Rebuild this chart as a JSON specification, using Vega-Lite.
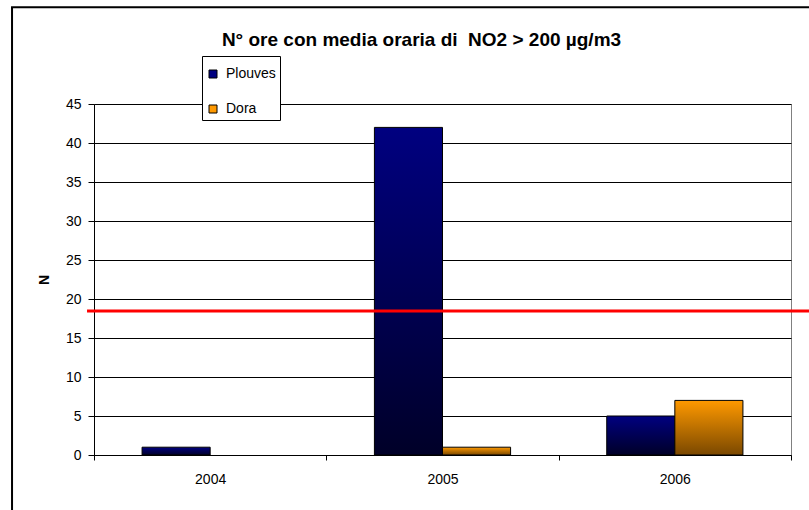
{
  "$schema": "https://vega.github.io/schema/vega-lite/v6.json",
  "width": 697,
  "height": 351,
  "autosize": "none",
  "padding": {"left": 94, "top": 104, "right": 18, "bottom": 55},
  "background": "white",
  "config": {
    "font": "Liberation Sans",
    "view": {"stroke": "#808080", "strokeWidth": 1},
    "axis": {
      "domainColor": "black",
      "tickColor": "black",
      "labelColor": "black",
      "titleColor": "black",
      "labelFont": "Liberation Sans",
      "titleFont": "Liberation Sans",
      "labelFontSize": 14,
      "labelFontWeight": "normal"
    }
  },
  "title": {
    "text": "N° ore con media oraria di\u00a0 NO2 > 200 µg/m3",
    "font": "Liberation Sans",
    "fontSize": 19,
    "fontWeight": "bold",
    "color": "black",
    "anchor": "middle",
    "frame": "group",
    "dx": -21,
    "offset": -44
  },
  "datasets": {
    "bars": [
      {"year": "2004", "series": "Plouves", "value": 1},
      {"year": "2005", "series": "Plouves", "value": 42},
      {"year": "2005", "series": "Dora", "value": 1},
      {"year": "2006", "series": "Plouves", "value": 5},
      {"year": "2006", "series": "Dora", "value": 7}
    ],
    "limit": [{"threshold": 18.45}]
  },
  "layer": [
    {
      "data": {"name": "limit"},
      "mark": {"type": "rect", "fill": null, "stroke": "black", "strokeWidth": 2},
      "encoding": {
        "x": {"datum": -0.1176, "type": "quantitative", "scale": {"domain": [0, 1], "nice": false, "zero": false}, "axis": null},
        "x2": {"datum": 1.1},
        "y": {
          "datum": 57.4,
          "type": "quantitative",
          "scale": {"domain": [0, 45], "nice": false},
          "axis": {
            "title": "N",
            "titleFontSize": 14,
            "titleFontWeight": "bold",
            "titlePadding": 14,
            "values": [0, 5, 10, 15, 20, 25, 30, 35, 40, 45],
            "labelFontSize": 14,
            "grid": true,
            "gridColor": "black",
            "gridOpacity": 1,
            "gridWidth": 1,
            "tickSize": 6,
            "labelPadding": 7
          }
        },
        "y2": {"datum": -9}
      }
    },
    {
      "data": {"name": "bars"},
      "mark": {"type": "bar", "stroke": "black", "strokeWidth": 1},
      "encoding": {
        "x": {
          "field": "year",
          "type": "nominal",
          "scale": {"paddingInner": 0, "paddingOuter": 0},
          "axis": {
            "title": null,
            "labelAngle": 0,
            "grid": false,
            "tickBand": "extent",
            "tickSize": 5,
            "labelPadding": 12,
            "labelFontSize": 14,
            "domainColor": "black"
          }
        },
        "xOffset": {
          "field": "series",
          "type": "nominal",
          "sort": ["Plouves", "Dora"],
          "scale": {"paddingInner": 0, "paddingOuter": 0.706}
        },
        "y": {
          "field": "value",
          "type": "quantitative",
          "scale": {"domain": [0, 45], "nice": false},
          "axis": {
            "title": "N",
            "titleFontSize": 14,
            "titleFontWeight": "bold",
            "titlePadding": 14,
            "values": [0, 5, 10, 15, 20, 25, 30, 35, 40, 45],
            "labelFontSize": 14,
            "grid": true,
            "gridColor": "black",
            "gridOpacity": 1,
            "gridWidth": 1,
            "tickSize": 6,
            "labelPadding": 7
          }
        },
        "fill": {
          "field": "series",
          "type": "nominal",
          "scale": {"domain": ["Plouves", "Dora"], "range": ["#000080", "#FF9900"]},
          "legend": {
            "orient": "none",
            "legendX": 108,
            "legendY": -48,
            "title": " ",
            "titleFontSize": 4,
            "titlePadding": 3,
            "fillColor": "white",
            "strokeColor": "black",
            "padding": 4,
            "rowPadding": 21,
            "symbolType": "square",
            "symbolSize": 64,
            "symbolStrokeColor": "black",
            "symbolStrokeWidth": 1,
            "labelFontSize": 14,
            "labelFont": "Liberation Sans",
            "labelColor": "black",
            "labelOffset": 6
          },
          "condition": [
            {
              "test": "datum.series === 'Plouves'",
              "value": {"gradient": "linear", "x1": 0, "y1": 0, "x2": 0, "y2": 1, "stops": [{"offset": 0, "color": "#000080"}, {"offset": 1, "color": "#000028"}]}
            },
            {
              "test": "datum.series === 'Dora'",
              "value": {"gradient": "linear", "x1": 0, "y1": 0, "x2": 0, "y2": 1, "stops": [{"offset": 0, "color": "#FF9900"}, {"offset": 1, "color": "#7A4800"}]}
            }
          ]
        }
      }
    },
    {
      "data": {"name": "limit"},
      "mark": {"type": "rule", "color": "#FF0000", "strokeWidth": 3},
      "encoding": {
        "x": {"datum": -0.01, "type": "quantitative", "scale": {"domain": [0, 1], "nice": false, "zero": false}, "axis": null},
        "x2": {"datum": 1.03},
        "y": {
          "field": "threshold",
          "type": "quantitative",
          "scale": {"domain": [0, 45], "nice": false},
          "axis": {
            "title": "N",
            "titleFontSize": 14,
            "titleFontWeight": "bold",
            "titlePadding": 14,
            "values": [0, 5, 10, 15, 20, 25, 30, 35, 40, 45],
            "labelFontSize": 14,
            "grid": true,
            "gridColor": "black",
            "gridOpacity": 1,
            "gridWidth": 1,
            "tickSize": 6,
            "labelPadding": 7
          }
        }
      }
    }
  ],
  "resolve": {"scale": {"x": "independent"}}
}
